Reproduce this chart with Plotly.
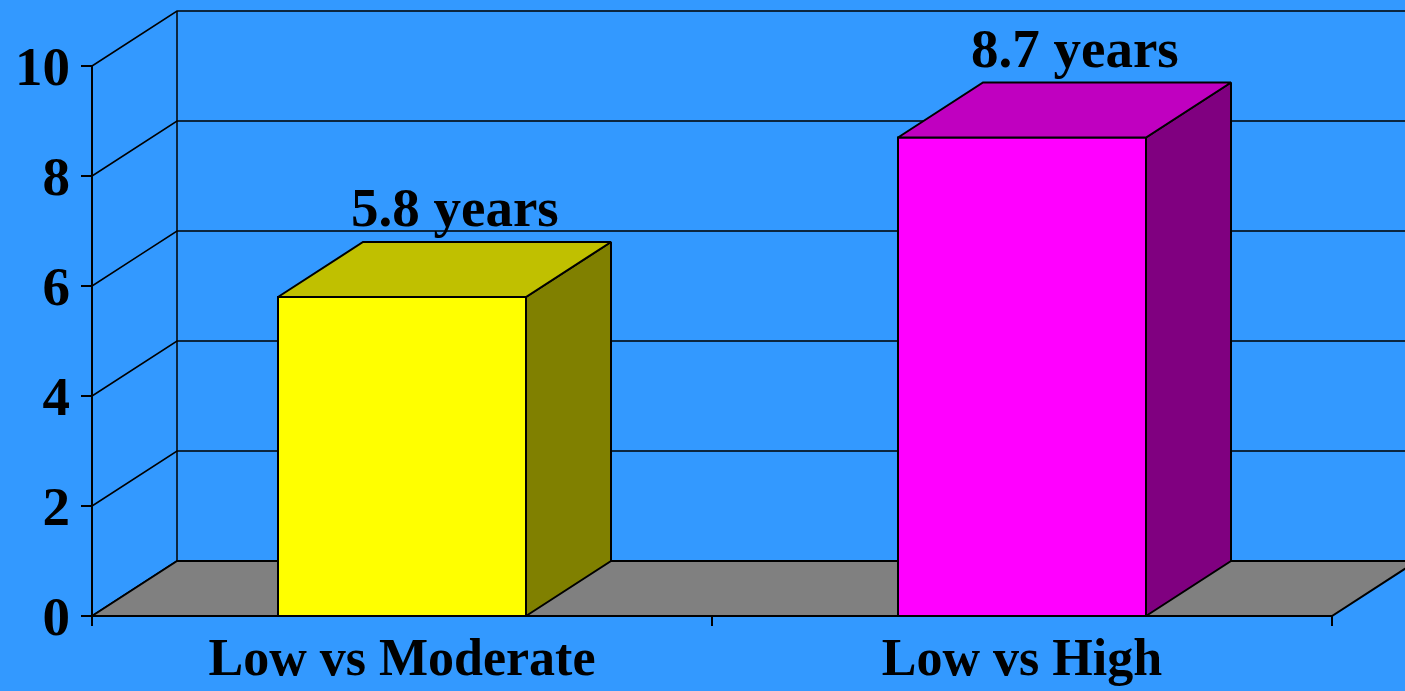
import plotly.graph_objects as go

categories = ["Low vs Moderate", "Low vs High"]
values = [5.8, 8.7]
value_labels = ["5.8 years", "8.7 years"]
front_colors = ["#FFFF00", "#FF00FF"]
top_colors = ["#C0C000", "#C000C0"]
side_colors = ["#808000", "#800080"]
y_ticks = [0, 2, 4, 6, 8, 10]

BG = "#3399FF"
FONT = "Liberation Serif"
W, H = 1405, 691
PX_X = 620.0   # pixels per category
PX_Y = 55.0    # pixels per unit
X0_PX, Y0_PX = 92, 616
L_MARGIN = 40

dx = 85 / PX_X   # depth offset
dy = 55 / PX_Y
half_w = 0.2
n = len(categories)

x_min = -(X0_PX - L_MARGIN) / PX_X
x_max = x_min + (W - L_MARGIN) / PX_X
y_max = Y0_PX / PX_Y
y_min = y_max - H / PX_Y

fig = go.Figure()


def poly(xs, ys, fill, width=2):
    fig.add_trace(go.Scatter(
        x=xs + [xs[0]], y=ys + [ys[0]], mode="lines", fill="toself",
        fillcolor=fill, line=dict(color="black", width=width),
        hoverinfo="skip", showlegend=False))


def line(xs, ys, width=1.5):
    fig.add_trace(go.Scatter(
        x=xs, y=ys, mode="lines", line=dict(color="black", width=width),
        hoverinfo="skip", showlegend=False))


# side + back walls with gridlines
for t in y_ticks:
    line([0, dx, x_max + 1], [t, t + dy, t + dy])
line([dx, dx], [dy, y_ticks[-1] + dy])

# floor
poly([0, n, n + dx, dx], [0, 0, dy, dy], "#808080")

# y axis line
line([0, 0], [0, y_ticks[-1]], width=2)

# x axis ticks
for i in range(n + 1):
    line([i, i], [0, -10 / PX_Y], width=2)

# bars
for i, v in enumerate(values):
    c = i + 0.5
    l, r = c - half_w, c + half_w
    poly([l, r, r, l], [0, 0, v, v], front_colors[i])
    poly([r, r + dx, r + dx, r], [0, dy, v + dy, v], side_colors[i])
    poly([l, r, r + dx, l + dx], [v, v, v + dy, v + dy], top_colors[i])
    fig.add_annotation(x=c + 0.085, y=v + dy + 0.62, text="<b>%s</b>" % value_labels[i],
                       showarrow=False, yanchor="middle",
                       font=dict(family=FONT, size=55, color="black"))

fig.update_layout(
    width=W, height=H,
    margin=dict(l=L_MARGIN, r=0, t=0, b=0),
    paper_bgcolor=BG, plot_bgcolor=BG,
    showlegend=False,
    xaxis=dict(range=[x_min, x_max], anchor="free", position=(H - Y0_PX) / H,
               tickvals=[i + 0.5 for i in range(n)], ticktext=categories,
               ticks="", showgrid=False, zeroline=False, showline=False,
               ticklabelstandoff=6,
               tickfont=dict(family=FONT, size=52, color="black", weight="bold"),
               automargin=False, fixedrange=True),
    yaxis=dict(range=[y_min, y_max], anchor="free",
               position=(X0_PX - L_MARGIN) / (W - L_MARGIN),
               tickvals=y_ticks, ticks="outside", ticklen=11, tickwidth=2,
               tickcolor="black", showgrid=False, zeroline=False, showline=False,
               tickfont=dict(family=FONT, size=55, color="black", weight="bold"),
               automargin=False, fixedrange=True),
)

fig.write_html("out.html", config={"displayModeBar": False},
               post_script="document.body.style.margin='0';"
                           "document.body.style.background='%s';" % BG)
